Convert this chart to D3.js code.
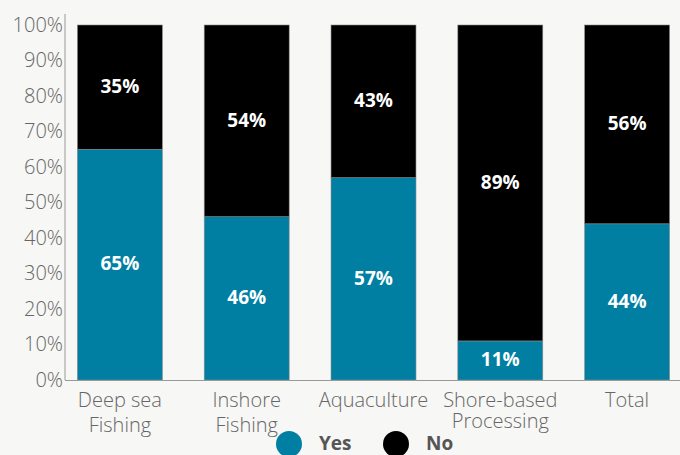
<!DOCTYPE html>
<html>
<head>
<meta charset="utf-8">
<script src="https://cdn.jsdelivr.net/npm/d3@7"></script>
<style>
  html, body { margin: 0; padding: 0; background: #f7f7f5; }
  svg { display: block; }
  text { font-family: "Open Sans", "Roboto", sans-serif; font-stretch: 88%; }
</style>
</head>
<body>
<svg id="chart" width="680" height="455"></svg>
<script>
// Share of respondents answering Yes / No, by sector
const categories = [["Deep sea", "Fishing"], ["Inshore", "Fishing"], ["Aquaculture"], ["Shore-based", "Processing"], ["Total"]];
const yesValues = [65, 46, 57, 11, 44];
const noValues = [35, 54, 43, 89, 56];
const yTicks = [0, 10, 20, 30, 40, 50, 60, 70, 80, 90, 100];
const seriesNames = ["Yes", "No"];

const colors = { Yes: "#007fa3", No: "#000000" };
const svg = d3.select("#chart");
const W = 680;

const x = d3.scaleBand()
  .domain(d3.range(categories.length))
  .range([66, 681])
  .paddingInner(0.33)
  .paddingOuter(0.09);

const y = d3.scaleLinear().domain([0, 100]).range([380, 25]);

// Stacked bars
const rows = categories.map((c, i) => ({ i, Yes: yesValues[i], No: noValues[i] }));
const stack = d3.stack().keys(seriesNames)(rows);

const layers = svg.append("g").selectAll("g")
  .data(stack).join("g")
  .attr("fill", d => colors[d.key]);

layers.selectAll("rect")
  .data(d => d.map(p => ({ p, key: d.key })))
  .join("rect")
  .attr("x", d => x(d.p.data.i))
  .attr("width", x.bandwidth())
  .attr("y", d => y(d.p[1]))
  .attr("height", d => y(d.p[0]) - y(d.p[1]))
  .attr("stroke", "#8a8a8a")
  .attr("stroke-width", 0.6);

// Value labels centred in each segment
layers.selectAll("text")
  .data(d => d.map(p => ({ p, key: d.key })))
  .join("text")
  .attr("x", d => x(d.p.data.i) + x.bandwidth() / 2)
  .attr("y", d => y((d.p[0] + d.p[1]) / 2))
  .attr("dy", "0.3em")
  .attr("text-anchor", "middle")
  .attr("fill", "#ffffff")
  .attr("font-weight", "bold")
  .attr("font-size", 19)
  .style("font-stretch", "95%")
  .text(d => d.p.data[d.key] + "%");

// Y axis
const yAxis = svg.append("g")
  .attr("transform", "translate(65,0)")
  .call(d3.axisLeft(y).tickValues(yTicks).tickSize(0).tickPadding(2).tickFormat(d => d + "%"));
yAxis.select(".domain").attr("stroke", "#999").attr("d", "M0,14V380");
yAxis.selectAll("text")
  .attr("fill", "#666")
  .attr("font-size", 20)
  .attr("font-weight", 300)
  .attr("font-family", null);

// X axis baseline
svg.append("line")
  .attr("x1", 65).attr("x2", W)
  .attr("y1", 380.5).attr("y2", 380.5)
  .attr("stroke", "#999");

// Category labels
const xLabels = svg.append("g").selectAll("text")
  .data(categories).join("text")
  .attr("text-anchor", "middle")
  .attr("fill", "#666")
  .attr("font-size", 20)
  .attr("font-weight", 300)
  .attr("transform", (d, i) => `translate(${x(i) + x.bandwidth() / 2},407)`);
xLabels.selectAll("tspan")
  .data((d, i) => d.map((line, k) => ({ line, k, tight: i === 3 })))
  .join("tspan")
  .attr("x", 0)
  .attr("y", d => d.k * (d.tight ? 21 : 25))
  .text(d => d.line);

// Legend
const legendX = [289, 396];
const legend = svg.append("g").selectAll("g")
  .data(seriesNames).join("g")
  .attr("transform", (d, i) => `translate(${legendX[i]},444)`);
legend.append("circle").attr("r", 13).attr("fill", d => colors[d]);
legend.append("text")
  .attr("x", 30)
  .attr("dy", "0.34em")
  .attr("fill", "#555")
  .attr("font-weight", "bold")
  .attr("font-size", 19)
  .text(d => d);
</script>
</body>
</html>
